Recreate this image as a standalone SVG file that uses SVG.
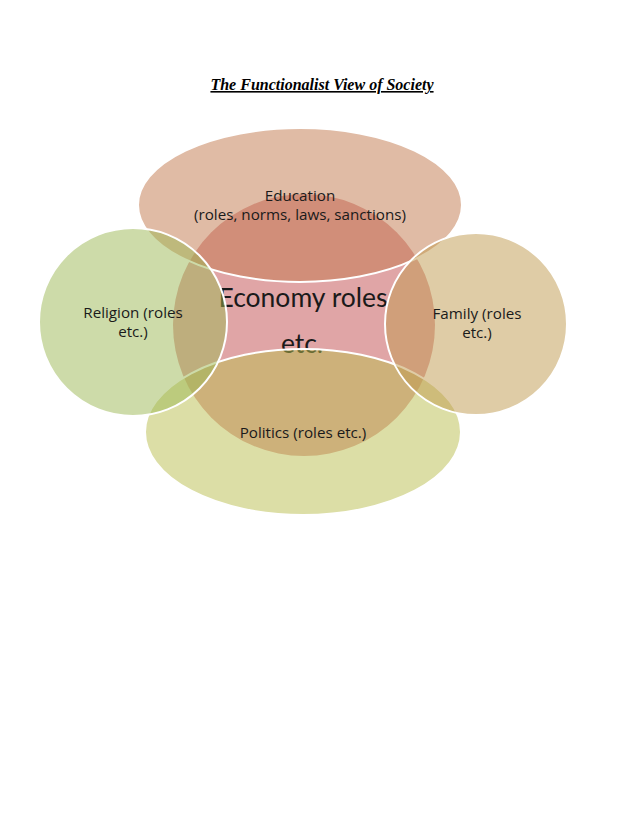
<svg xmlns="http://www.w3.org/2000/svg" width="638" height="826" viewBox="0 0 638 826">
<style>
.ov{fill-opacity:0.5;stroke:#ffffff;stroke-width:2}
.lb{font-family:"Open Sans",Lato,"Liberation Sans",sans-serif;fill:#1a1a1a;text-anchor:middle}
.sm{font-size:15.2px}
</style>
<rect width="638" height="826" fill="#ffffff"/>
<text x="322" y="90" font-family="'Liberation Serif',serif" font-size="16" font-weight="bold" font-style="italic" text-decoration="underline" text-anchor="middle" fill="#000">The Functionalist View of Society</text>
<g id="economy">
<circle cx="304" cy="325" r="131" fill="#e0a5a6"/>
<text x="303" y="307" font-family="Lato,'Open Sans',sans-serif" font-size="26.5" fill="#1a1a1a" text-anchor="middle">Economy roles</text>
<text x="302" y="353" font-family="Lato,'Open Sans',sans-serif" font-size="26.5" fill="#1a1a1a" text-anchor="middle">etc.</text>
</g>
<g id="education">
<ellipse class="ov" cx="300" cy="205" rx="162" ry="77" fill="#c1774b"/>
<text class="lb sm" x="300" y="201">Education</text>
<text class="lb sm" x="300" y="220">(roles, norms, laws, sanctions)</text>
</g>
<g id="politics">
<ellipse class="ov" cx="303" cy="432" rx="158" ry="83" fill="#b9bd4d"/>
<text class="lb sm" x="303" y="438">Politics (roles etc.)</text>
</g>
<g id="religion">
<circle class="ov" cx="133" cy="322" r="94" fill="#9bb753"/>
<text class="lb sm" x="133" y="318">Religion (roles</text>
<text class="lb sm" x="133" y="337">etc.)</text>
</g>
<g id="family">
<circle class="ov" cx="476" cy="324" r="91" fill="#bf994d"/>
<text class="lb sm" x="477" y="319">Family (roles</text>
<text class="lb sm" x="477" y="338">etc.)</text>
</g>
<g id="connectors"></g>
</svg>
